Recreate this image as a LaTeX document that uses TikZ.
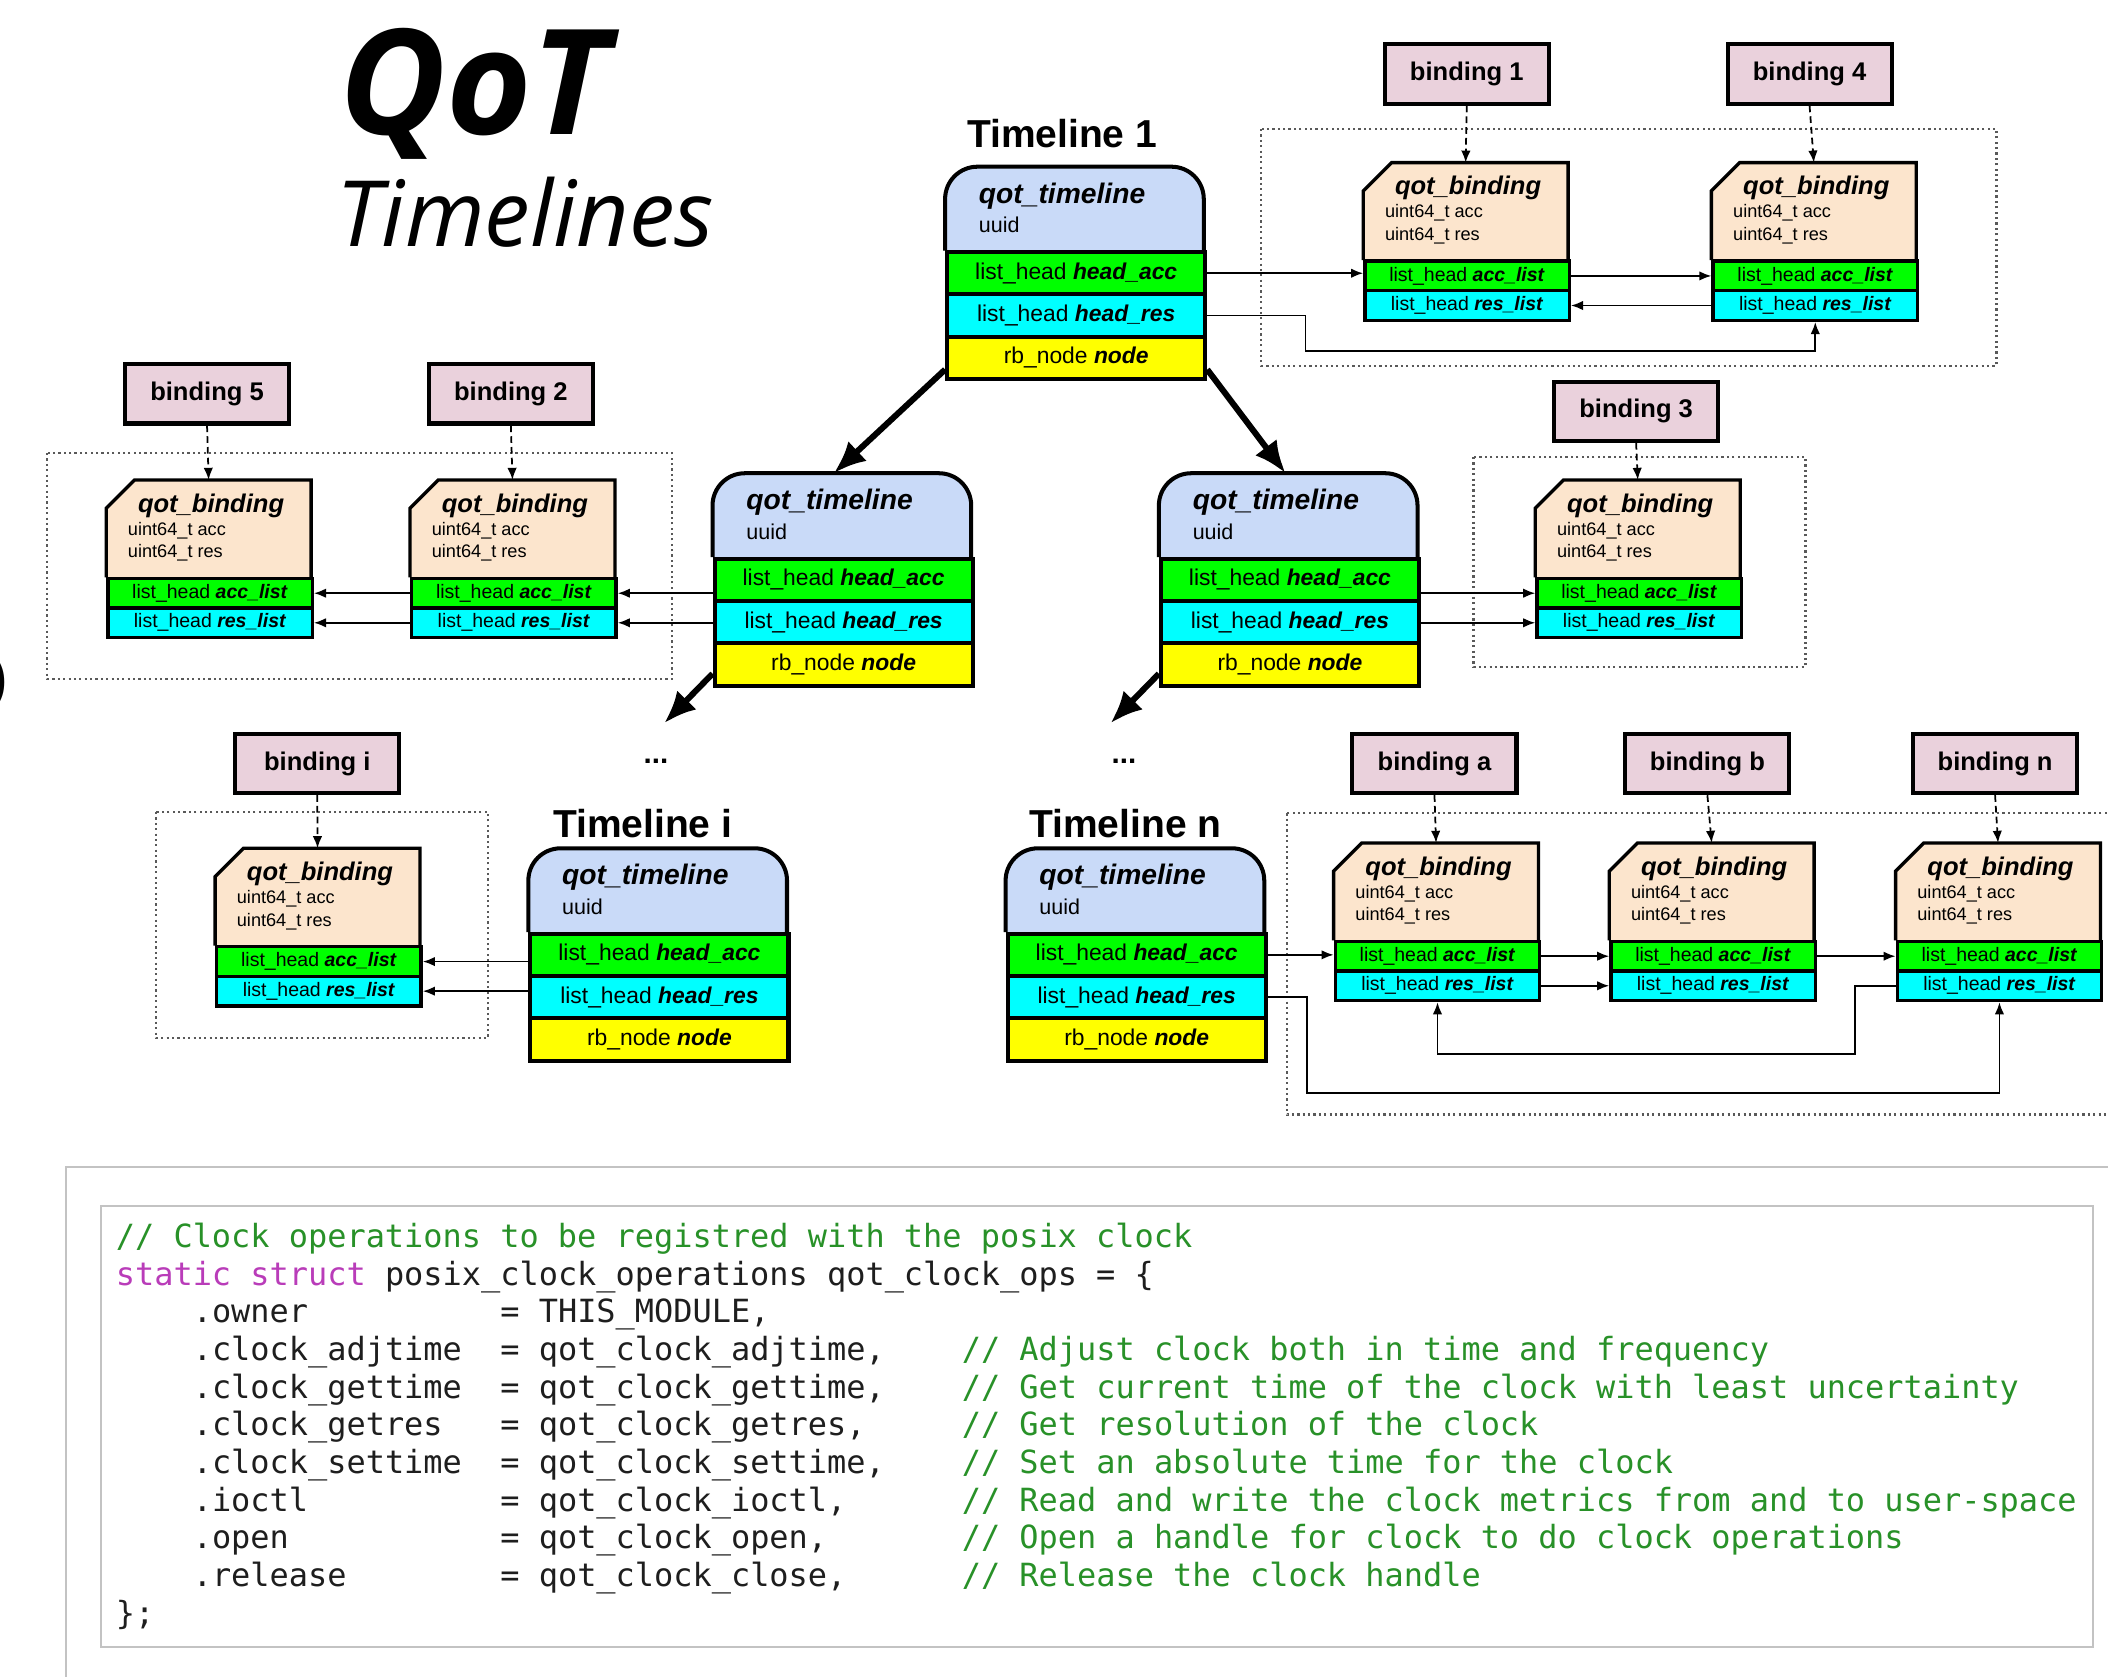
\documentclass[tikz,border=0pt]{standalone}
\usepackage{fontspec}
\setmainfont{Liberation Sans}
\setmonofont{DejaVu Sans Mono}
\newfontfamily\titlefont{Open Sans}
\usetikzlibrary{arrows.meta,calc}

\definecolor{tlblue}{HTML}{C9DAF8}
\definecolor{rowgreen}{HTML}{00FF00}
\definecolor{rowcyan}{HTML}{00FFFF}
\definecolor{rowyellow}{HTML}{FFFF00}
\definecolor{peach}{HTML}{FCE5CD}
\definecolor{bpink}{HTML}{EAD1DC}
\definecolor{cgreen}{RGB}{40,145,40}
\definecolor{cmagenta}{RGB}{185,60,185}
\definecolor{codeblack}{RGB}{30,30,30}
\definecolor{framegray}{RGB}{195,195,195}

\tikzset{
  tlhead/.style={minimum width=192pt, minimum height=62pt, inner sep=0pt, anchor=north west},
  tlrow/.style={draw=black, line width=3pt, minimum width=192pt, minimum height=31.5pt,
    inner sep=0pt, anchor=north west, font=\fontsize{17}{17}\selectfont},
  bhead/.style={minimum width=152pt, minimum height=72pt, inner sep=0pt, anchor=north west},
  brow/.style={draw=black, line width=2.5pt, minimum width=152pt, minimum height=22pt,
    inner sep=0pt, anchor=north west, font=\fontsize{14.5}{14.5}\selectfont},
  blabel/.style={draw=black, line width=3pt, fill=bpink, minimum width=122pt, minimum height=44pt,
    inner sep=0pt, font=\bfseries\fontsize{19}{19}\selectfont},
  tllabel/.style={anchor=base, inner sep=0pt, font=\bfseries\fontsize{29}{29}\selectfont},
  conn/.style={line width=1.3pt, -{Latex[length=9pt,width=7pt]}},
  dashconn/.style={line width=1.3pt, dash pattern=on 5pt off 3pt, -{Latex[length=9pt,width=7pt]}},
  bigarrow/.style={line width=4.5pt, -{Latex[length=24pt,width=20pt]}},
  dotbox/.style={draw=black!65, line width=1.6pt, dash pattern=on 1.6pt off 2.4pt},
  codeframe/.style={draw=framegray, line width=1.4pt},
  code/.style={anchor=base west, inner sep=0pt, text=codeblack,
    font=\ttfamily\frenchspacing\fontsize{23.75}{28}\selectfont},
}

% qot_timeline structure: name, left x, top y
\newcommand\tlblock[3]{%
  \node[tlhead] (#1-head) at (#2,#3) {};
  \filldraw[fill=tlblue, draw=black, line width=3pt, rounded corners=24pt]
    (#1-head.south west) -- (#1-head.north west) -- (#1-head.north east) -- (#1-head.south east);
  \node[anchor=base west, inner sep=0pt, font=\bfseries\itshape\fontsize{21}{21}\selectfont]
    (#1-name) at (#2+25,#3+27) {qot\_timeline};
  \node[anchor=base west, inner sep=0pt, font=\fontsize{16}{16}\selectfont]
    (#1-uuid) at (#2+25,#3+49) {uuid};
  \node[tlrow, fill=rowgreen] (#1-acc) at (#2,#3+62) {list\_head \textbf{\textit{head\_acc}}};
  \node[tlrow, fill=rowcyan] (#1-res) at (#2,#3+93.5) {list\_head \textbf{\textit{head\_res}}};
  \node[tlrow, fill=rowyellow] (#1-node) at (#2,#3+125) {rb\_node \textbf{\textit{node}}};
}

% qot_binding structure: name, left x, top y
\newcommand\bindblock[3]{%
  \node[bhead] (#1-head) at (#2,#3) {};
  \filldraw[fill=peach, draw=black, line width=2.5pt]
    (#1-head.south west) -- ([yshift=-21pt]#1-head.north west) -- ([xshift=21pt]#1-head.north west)
    -- (#1-head.north east) -- (#1-head.south east);
  \node[anchor=base, inner sep=0pt, font=\bfseries\itshape\fontsize{19}{19}\selectfont]
    (#1-name) at (#2+78,#3+24) {qot\_binding};
  \node[anchor=base west, inner sep=0pt, font=\fontsize{13.5}{13.5}\selectfont]
    (#1-f1) at (#2+16,#3+41) {uint64\_t acc};
  \node[anchor=base west, inner sep=0pt, font=\fontsize{13.5}{13.5}\selectfont]
    (#1-f2) at (#2+16,#3+58) {uint64\_t res};
  \node[brow, fill=rowgreen] (#1-acc) at (#2,#3+72) {list\_head \textbf{\textit{acc\_list}}};
  \node[brow, fill=rowcyan] (#1-res) at (#2,#3+94) {list\_head \textbf{\textit{res\_list}}};
}

\begin{document}
\begin{tikzpicture}[x=1pt, y=-1pt]
\useasboundingbox (0,0) rectangle (1568,1247);
\clip (0,0) rectangle (1568,1247);
\fill[white] (0,0) rectangle (1568,1247);

% title
\node[anchor=base west, inner sep=0pt, font=\titlefont\bfseries\itshape\fontsize{109}{109}\selectfont]
  (qot) at (252,100) {QoT};
\node[anchor=base west, inner sep=0pt, font=\titlefont\itshape\fontsize{68}{68}\selectfont]
  (timelines) at (250,183) {Timelines};
\node[anchor=base west, inner sep=0pt, font=\bfseries\fontsize{40}{40}\selectfont]
  (paren) at (-8,518) {)};

% binding groups
\draw[dotbox] (938,96) rectangle (1485,272);
\draw[dotbox] (35,337) rectangle (500,505);
\draw[dotbox] (1096,340) rectangle (1343,496);
\draw[dotbox] (116,604) rectangle (363,772);
\draw[dotbox] (957,605) rectangle (1620,829);

% timelines
\node[tllabel] (lt1) at (790,110) {Timeline 1};
\node[tllabel] (lti) at (478,623) {Timeline i};
\node[tllabel] (ltn) at (837,623) {Timeline n};
\tlblock{t1}{703}{124}
\tlblock{t2}{530}{352}
\tlblock{t3}{862}{352}
\tlblock{ti}{393}{631}
\tlblock{tn}{748}{631}

\node[inner sep=0pt, font=\bfseries\fontsize{22}{22}\selectfont] (dots1) at (488,566) {...};
\node[inner sep=0pt, font=\bfseries\fontsize{22}{22}\selectfont] (dots2) at (836,566) {...};

% bindings
\bindblock{b1}{1014}{121}
\bindblock{b4}{1273}{121}
\bindblock{b5}{79}{357}
\bindblock{b2}{305}{357}
\bindblock{b3}{1142}{357}
\bindblock{bi}{160}{631}
\bindblock{ba}{992}{627}
\bindblock{bb}{1197}{627}
\bindblock{bn}{1410}{627}

\node[blabel] (l1) at (1091,55) {binding 1};
\node[blabel] (l4) at (1346,55) {binding 4};
\node[blabel] (l5) at (154,293) {binding 5};
\node[blabel] (l2) at (380,293) {binding 2};
\node[blabel] (l3) at (1217,306) {binding 3};
\node[blabel] (li) at (236,568) {binding i};
\node[blabel] (la) at (1067,568) {binding a};
\node[blabel] (lb) at (1270,568) {binding b};
\node[blabel] (ln) at (1484,568) {binding n};

\foreach \l/\b in {l1/b1, l4/b4, l5/b5, l2/b2, l3/b3, li/bi, la/ba, lb/bb, ln/bn}
  \draw[dashconn] (\l.south) -- (\b-head.north);

% tree links
\draw[bigarrow] ($(t1-node.west)!0.5!(t1-node.south west)$) -- ([xshift=-6pt]t2-head.north);
\draw[bigarrow] ($(t1-node.east)!0.5!(t1-node.south east)$) -- ([xshift=-2pt]t3-head.north);
\coordinate (d1) at (494,538);
\coordinate (d2) at (826,538);
\draw[bigarrow] ($(t2-node.west)!0.4!(t2-node.south west)$) -- (d1);
\draw[bigarrow] ($(t3-node.west)!0.4!(t3-node.south west)$) -- (d2);

% timeline 1 lists
\draw[conn] (t1-acc.east) -- (t1-acc.east -| b1-acc.west);
\draw[conn] (b1-acc.east) -- (b4-acc.west);
\draw[conn] (b4-res.west) -- (b1-res.east);
\coordinate (j1) at (971,261);
\draw[conn] (t1-res.east) -- (t1-res.east -| j1) -- (j1) -- (j1 -| b4-res.south) -- (b4-res.south);

% left timeline lists
\draw[conn] (b2-acc.east -| t2-acc.west) -- (b2-acc.east);
\draw[conn] (b2-res.east -| t2-res.west) -- (b2-res.east);
\draw[conn] (b2-acc.west) -- (b5-acc.east);
\draw[conn] (b2-res.west) -- (b5-res.east);

% right timeline lists
\draw[conn] (t3-acc.east |- b3-acc.west) -- (b3-acc.west);
\draw[conn] (t3-res.east |- b3-res.west) -- (b3-res.west);

% timeline i lists
\draw[conn] (bi-acc.east -| ti-acc.west) -- (bi-acc.east);
\draw[conn] (bi-res.east -| ti-res.west) -- (bi-res.east);

% timeline n lists
\draw[conn] (tn-acc.east) -- (tn-acc.east -| ba-acc.west);
\draw[conn] (ba-acc.east) -- (bb-acc.west);
\draw[conn] (bb-acc.east) -- (bn-acc.west);
\draw[conn] (ba-res.east) -- (bb-res.west);
\coordinate (j2) at (1380,784);
\draw[conn] (bn-res.west) -- (bn-res.west -| j2) -- (j2) -- (j2 -| ba-res.south) -- (ba-res.south);
\coordinate (j3) at (972,813);
\draw[conn] (tn-res.east) -- (tn-res.east -| j3) -- (j3) -- (j3 -| bn-res.south) -- (bn-res.south);

% code listing
\draw[codeframe] (49,1300) -- (49,868) -- (1620,868);
\draw[codeframe] (75,897) rectangle (1557,1225);
\node[code, text=cgreen] (c0) at (86,928) {// Clock operations to be registred with the posix clock};
\node[code] (c1) at (86,956) {\textcolor{cmagenta}{static struct} posix\_clock\_operations qot\_clock\_ops = \{};
\node[code] (c2a) at (143.2,984) {.owner};
\node[code] (c2b) at (372,984) {= THIS\_MODULE,};
\node[code] (c3a) at (143.2,1012) {.clock\_adjtime};
\node[code] (c3b) at (372,1012) {= qot\_clock\_adjtime,};
\node[code, text=cgreen] (c3c) at (715.2,1012) {// Adjust clock both in time and frequency};
\node[code] (c4a) at (143.2,1040) {.clock\_gettime};
\node[code] (c4b) at (372,1040) {= qot\_clock\_gettime,};
\node[code, text=cgreen] (c4c) at (715.2,1040) {// Get current time of the clock with least uncertainty};
\node[code] (c5a) at (143.2,1068) {.clock\_getres};
\node[code] (c5b) at (372,1068) {= qot\_clock\_getres,};
\node[code, text=cgreen] (c5c) at (715.2,1068) {// Get resolution of the clock};
\node[code] (c6a) at (143.2,1096) {.clock\_settime};
\node[code] (c6b) at (372,1096) {= qot\_clock\_settime,};
\node[code, text=cgreen] (c6c) at (715.2,1096) {// Set an absolute time for the clock};
\node[code] (c7a) at (143.2,1124) {.ioctl};
\node[code] (c7b) at (372,1124) {= qot\_clock\_ioctl,};
\node[code, text=cgreen] (c7c) at (715.2,1124) {// Read and write the clock metrics from and to user-space};
\node[code] (c8a) at (143.2,1152) {.open};
\node[code] (c8b) at (372,1152) {= qot\_clock\_open,};
\node[code, text=cgreen] (c8c) at (715.2,1152) {// Open a handle for clock to do clock operations};
\node[code] (c9a) at (143.2,1180) {.release};
\node[code] (c9b) at (372,1180) {= qot\_clock\_close,};
\node[code, text=cgreen] (c9c) at (715.2,1180) {// Release the clock handle};
\node[code] (c10) at (86,1208) {\};};
\end{tikzpicture}
\end{document}
